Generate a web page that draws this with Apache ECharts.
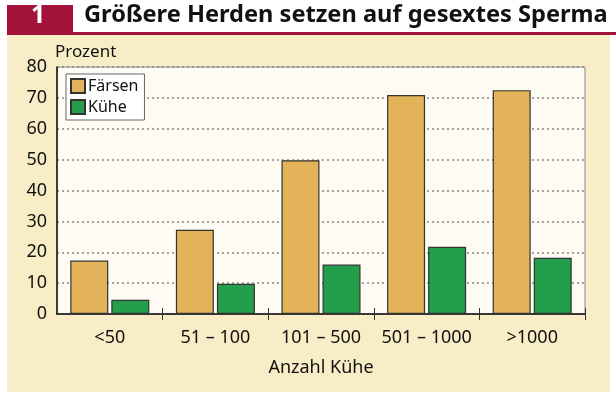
<!DOCTYPE html>
<html>
<head>
<meta charset="utf-8">
<script src="https://cdn.jsdelivr.net/npm/echarts@6/dist/echarts.min.js"></script>
<style>
  html, body { margin: 0; padding: 0; background: #fff; }
  #chart { width: 616px; height: 398px; }
</style>
</head>
<body>
<div id="chart"></div>
<script>
var categories = ['<50', '51 – 100', '101 – 500', '501 – 1000', '>1000'];
var faersen = [17.3, 27.3, 49.8, 70.9, 72.5];
var kuehe = [4.6, 9.8, 16.0, 21.8, 18.2];
var yTicks = [0, 10, 20, 30, 40, 50, 60, 70, 80];

var font = 'Noto Sans';
var chart = echarts.init(document.getElementById('chart'));

var option = {
    animation: false,
    backgroundColor: '#ffffff',
    textStyle: { fontFamily: font },
    graphic: [
        // beige panel
        { type: 'rect', shape: { x: 7, y: 35, width: 603, height: 357 }, style: { fill: '#f9edc7' }, z: -10 },
        // title bar
        { type: 'rect', shape: { x: 7, y: 5, width: 66, height: 29 }, style: { fill: '#a3123a' } },
        { type: 'rect', shape: { x: 7, y: 32, width: 609, height: 3 }, style: { fill: '#a3123a' } },
        { type: 'text', left: 31, top: 3, style: { text: '1', fill: '#fff', font: 'bold 25px ' + font } },
        { type: 'text', left: 84, top: 3, style: { text: 'Größere Herden setzen auf gesextes Sperma', fill: '#111', font: 'bold 23.6px ' + font } },
        { type: 'text', left: 55, top: 44, style: { text: 'Prozent', fill: '#111', font: '17px ' + font } }
    ],
    legend: {
        orient: 'vertical',
        left: 66,
        top: 74,
        icon: 'rect',
        itemWidth: 14,
        itemHeight: 14,
        itemGap: 5,
        padding: [4, 6, 5, 4],
        backgroundColor: '#ffffff',
        borderColor: '#666',
        borderWidth: 1,
        textStyle: { fontSize: 16, color: '#111', padding: [0, 0, 0, -2] },
        data: ['Färsen', 'Kühe']
    },
    grid: {
        left: 57,
        right: 31,
        top: 67,
        bottom: 84,
        show: true,
        backgroundColor: '#fefbf2',
        borderColor: '#888',
        borderWidth: 1
    },
    xAxis: [{
        type: 'category',
        data: categories,
        name: 'Anzahl Kühe',
        nameLocation: 'middle',
        nameGap: 45,
        nameTextStyle: { fontSize: 18, color: '#111' },
        axisLine: { lineStyle: { color: '#111', width: 1.5 } },
        axisTick: { show: false },
        axisLabel: { interval: 0, fontSize: 18, color: '#111', margin: 15 }
    }, {
        type: 'category',
        data: categories,
        position: 'bottom',
        offset: -6,
        z: 10,
        axisLine: { show: false },
        axisTick: {
            show: true,
            length: 12,
            interval: function (i) { return i > 0 && i < categories.length; },
            lineStyle: { color: '#333', width: 1 }
        },
        axisLabel: { show: false },
        splitLine: { show: false }
    }],
    yAxis: {
        type: 'value',
        min: yTicks[0],
        max: yTicks[yTicks.length - 1],
        interval: 10,
        axisLine: { show: true, lineStyle: { color: '#111', width: 1.5 } },
        axisTick: { show: false },
        axisLabel: { fontSize: 18, color: '#111', margin: 10 },
        splitLine: { lineStyle: { color: '#888', type: [2, 3], width: 1.5 } }
    },
    series: [{
        name: 'Färsen',
        type: 'bar',
        data: faersen,
        barWidth: 38,
        barGap: '8%',
        itemStyle: { color: '#e3b35a', borderColor: '#333', borderWidth: 1.2 }
    }, {
        name: 'Kühe',
        type: 'bar',
        data: kuehe,
        barWidth: 38,
        barGap: '8%',
        itemStyle: { color: '#239e4a', borderColor: '#333', borderWidth: 1.2 }
    }]
};

chart.setOption(option);
</script>
</body>
</html>
